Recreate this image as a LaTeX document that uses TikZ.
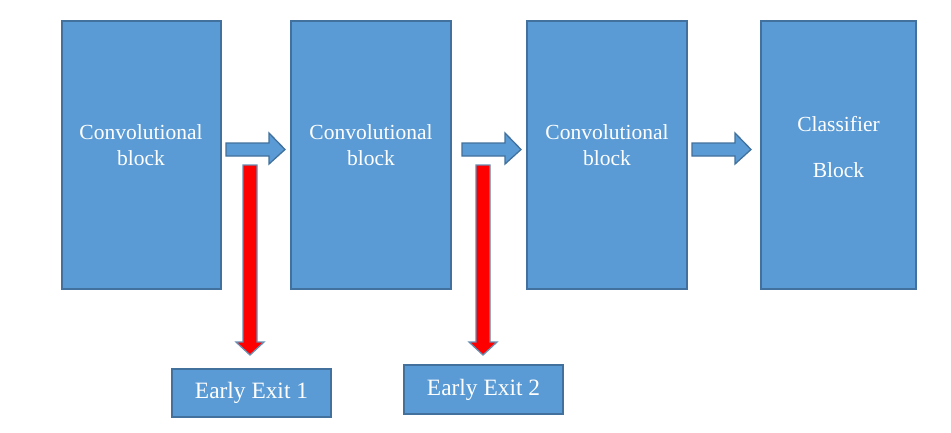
\documentclass[tikz,border=0pt]{standalone}
\usepackage{fontspec}
\setmainfont{Liberation Serif}
\usetikzlibrary{calc}
\definecolor{boxfill}{HTML}{5B9BD5}
\definecolor{boxline}{HTML}{41719C}
\tikzset{
  blk/.style={draw=boxline, line width=1.6pt, fill=boxfill, text=white, inner sep=0pt, align=center},
  exitbox/.style={draw=boxline, line width=1.6pt, fill=boxfill, text=white, inner sep=0pt, font=\fontsize{23.4}{26}\selectfont},
  lbl/.style={text=white, align=center, font=\fontsize{21.5}{26}\selectfont},
  barrow/.style={draw=boxline, line width=1.3pt, fill=boxfill},
  rarrow/.style={draw=boxline!80, line width=1.3pt, fill=red},
}
\begin{document}
\begin{tikzpicture}[x=1pt, y=-1pt]
\useasboundingbox (0,0) rectangle (951,432);
\node[blk, minimum width=159pt, minimum height=268pt] (b1) at (141.5,155) {};
\node[blk, minimum width=160pt, minimum height=268pt] (b2) at (371,155) {};
\node[blk, minimum width=160pt, minimum height=268pt] (b3) at (607,155) {};
\node[blk, minimum width=155pt, minimum height=268pt] (b4) at (838.5,155) {};
\node[lbl] (t1) at (141,145) {Convolutional\\block};
\node[lbl] (t2) at (371,145) {Convolutional\\block};
\node[lbl] (t3) at (607,145) {Convolutional\\block};
\node[lbl, font=\fontsize{21.5}{46}\selectfont] (t4) at (838.5,147) {Classifier\\Block};
\node[exitbox, minimum width=159pt, minimum height=48pt] (e1) at (251.5,393) {Early Exit 1};
\node[exitbox, minimum width=159pt, minimum height=49pt] (e2) at (483.5,389.5) {Early Exit 2};
% blue block arrows
\foreach \x in {226,462,692}{
  \draw[barrow] (\x,143) -- (\x+43,143) -- (\x+43,133) -- (\x+59,149.5) -- (\x+43,164) -- (\x+43,156) -- (\x,156) -- cycle;
}
% red block arrows
\foreach \x/\t in {250/355,483/355}{
  \draw[rarrow] (\x-7,165) -- (\x+7,165) -- (\x+7,342) -- (\x+14,342) -- (\x,\t) -- (\x-14,342) -- (\x-7,342) -- cycle;
}
\end{tikzpicture}
\end{document}
